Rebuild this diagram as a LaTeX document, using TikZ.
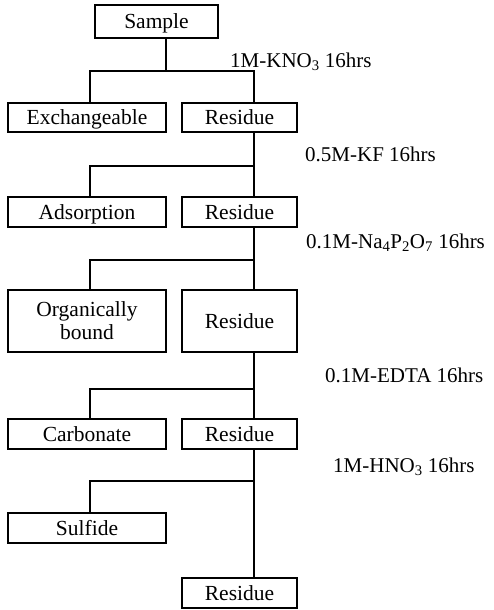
\documentclass[tikz,border=0pt]{standalone}
\usepackage{fontspec}
\setmainfont{Liberation Serif}
\begin{document}
\begin{tikzpicture}[x=1pt,y=1pt,
  box/.style={draw,line width=1.8pt,inner sep=0pt,align=center,font=\fontsize{21.5}{23}\selectfont},
  one/.style={text height=16pt,text depth=2pt},
  lbox/.style={box,minimum width=158pt,minimum height=30pt},
  rbox/.style={box,minimum width=115pt,minimum height=30pt},
  cond/.style={anchor=west,inner sep=0pt,font=\fontsize{21}{23}\selectfont},
  link/.style={line width=1.8pt}]
\useasboundingbox (0,0) rectangle (494,-610);
% nodes
\node[box,one,minimum width=123pt,minimum height=33pt] (sample) at (156.5,-21.5) {Sample};
\node[lbox,one,minimum height=29pt] (ex) at (87,-117.5) {Exchangeable};
\node[rbox,one,minimum height=29pt] (res1) at (239.5,-117.5) {Residue};
\node[lbox,one] (ads) at (87,-212) {Adsorption};
\node[rbox,one] (res2) at (239.5,-212) {Residue};
\node[lbox,minimum height=62pt] (org) at (87,-321) {Organically\\bound};
\node[rbox,one,minimum height=62pt] (res3) at (239.5,-321) {Residue};
\node[lbox,one] (carb) at (87,-434) {Carbonate};
\node[rbox,one] (res4) at (239.5,-434) {Residue};
\node[lbox,one] (sulf) at (87,-528) {Sulfide};
\node[rbox,one] (res5) at (239.5,-593) {Residue};
% labels
\node[cond] (c1) at (230,-62) {1M-KNO\textsubscript{3} 16hrs};
\node[cond] (c2) at (305,-154) {0.5M-KF 16hrs};
\node[cond] (c3) at (306,-243) {0.1M-Na\textsubscript{4}P\textsubscript{2}O\textsubscript{7} 16hrs};
\node[cond] (c4) at (325,-375) {0.1M-EDTA 16hrs};
\node[cond] (c5) at (333,-467) {1M-HNO\textsubscript{3} 16hrs};
% junctions
\coordinate (j0) at (166,-71);
\coordinate (a1) at (90,-71);   \coordinate (b1) at (254,-71);
\coordinate (a2) at (90,-166);  \coordinate (b2) at (254,-166);
\coordinate (a3) at (90,-260);  \coordinate (b3) at (254,-260);
\coordinate (a4) at (90,-389);  \coordinate (b4) at (254,-389);
\coordinate (a5) at (90,-481);  \coordinate (b5) at (254,-481);
% connectors
\draw[link] (sample.south -| j0) -- (j0);
\draw[link] (ex.north -| a1) |- (b1) -- (res1.north -| b1);
\draw[link] (res1.south -| b2) -- (res2.north -| b2);
\draw[link] (ads.north -| a2) |- (b2);
\draw[link] (res2.south -| b3) -- (res3.north -| b3);
\draw[link] (org.north -| a3) |- (b3);
\draw[link] (res3.south -| b4) -- (res4.north -| b4);
\draw[link] (carb.north -| a4) |- (b4);
\draw[link] (res4.south -| b5) -- (res5.north -| b5);
\draw[link] (sulf.north -| a5) |- (b5);
\end{tikzpicture}
\end{document}
